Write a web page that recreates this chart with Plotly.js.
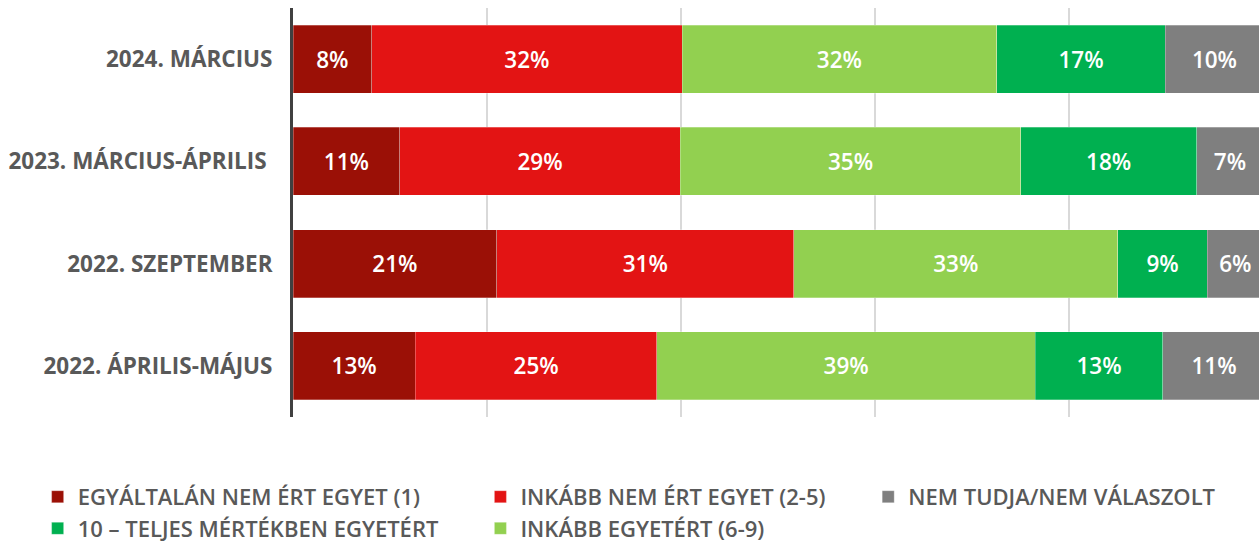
<!DOCTYPE html>
<html>
<head>
<meta charset="utf-8">
<script src="https://cdn.plot.ly/plotly-3.0.1.min.js"></script>
<style>
  html, body { margin: 0; padding: 0; background: #ffffff; }
  #chart { width: 1259px; height: 542px; }
</style>
</head>
<body>
<div id="chart"></div>
<script>
// ---- data ----
const categories = ["2024. MÁRCIUS", "2023. MÁRCIUS-ÁPRILIS\u00a0", "2022. SZEPTEMBER", "2022. ÁPRILIS-MÁJUS"];
const egyaltalanNem = [8.1, 11.0, 21.0, 12.6];   // EGYÁLTALÁN NEM ÉRT EGYET (1)
const inkabbNem     = [32.0, 28.9, 30.6, 24.9];  // INKÁBB NEM ÉRT EGYET (2-5)
const inkabbIgen    = [32.4, 35.1, 33.4, 39.0];  // INKÁBB EGYETÉRT (6-9)
const teljesen      = [17.4, 18.1, 9.2, 13.1];   // 10 – TELJES MÉRTÉKBEN EGYETÉRT
const nemTudja      = [10.1, 6.9, 5.8, 10.6];    // NEM TUDJA/NEM VÁLASZOLT

const seriesNames = [
  "EGYÁLTALÁN NEM ÉRT EGYET (1)",
  "INKÁBB NEM ÉRT EGYET (2-5)",
  "INKÁBB EGYETÉRT (6-9)",
  "10 – TELJES MÉRTÉKBEN EGYETÉRT",
  "NEM TUDJA/NEM VÁLASZOLT"
];
const seriesValues = [egyaltalanNem, inkabbNem, inkabbIgen, teljesen, nemTudja];
const seriesColors = ["#9B1006", "#E31414", "#92D050", "#00B050", "#7F7F7F"];
const seriesLegend = ["legend", "legend2", "legend2", "legend", "legend3"];
const seriesRank   = [1, 1, 2, 2, 1];

const FONT = "'Open Sans', Roboto, sans-serif";

const traces = seriesValues.map((vals, i) => ({
  type: "bar",
  orientation: "h",
  name: seriesNames[i],
  x: vals,
  y: categories,
  marker: { color: seriesColors[i], line: { color: "rgba(255,255,255,0.45)", width: 0.6 } },
  texttemplate: "%{x:.0f}%",
  textposition: "inside",
  insidetextanchor: "middle",
  textangle: 0,
  constraintext: "none",
  textfont: { family: FONT, size: 22.5, color: "#ffffff", weight: 600 },
  legend: seriesLegend[i],
  legendrank: seriesRank[i],
  hoverinfo: "name+x"
}));

// plot area in px
const L = 292.5, R = 1259, T = 7.5, B = 417;
const W = R - L, H = B - T;
const px2x = p => (p - L) / W;
const px2y = p => (B - p) / H;

const legendFont = { family: FONT, size: 22, color: "#595959", weight: 600 };
const legendBase = {
  orientation: "v",
  xanchor: "left",
  yanchor: "top",
  y: px2y(476),
  bgcolor: "rgba(0,0,0,0)",
  font: legendFont,
  traceorder: "normal",
  itemclick: false,
  itemdoubleclick: false
};

const layout = {
  width: 1259,
  height: 542,
  margin: { l: L, r: 1259 - R, t: T, b: 542 - B, pad: 0, autoexpand: false },
  paper_bgcolor: "#ffffff",
  plot_bgcolor: "#ffffff",
  barmode: "stack",
  bargap: 0.336,
  showlegend: true,
  xaxis: {
    range: [0, 99.54],
    dtick: 20,
    tick0: 0,
    showgrid: true,
    gridcolor: "#D9D9D9",
    gridwidth: 2,
    zeroline: false,
    showline: false,
    showticklabels: false,
    ticks: "",
    fixedrange: true
  },
  yaxis: {
    type: "category",
    categoryorder: "array",
    categoryarray: categories,
    autorange: "reversed",
    showline: true,
    linecolor: "#404040",
    linewidth: 3,
    showgrid: false,
    zeroline: false,
    ticks: "",
    ticklabelstandoff: 13,
    tickfont: { family: FONT, size: 22.5, color: "#595959", weight: 700 },
    fixedrange: true
  },
  legend:  Object.assign({}, legendBase, { x: px2x(37) }),
  legend2: Object.assign({}, legendBase, { x: px2x(480) }),
  legend3: Object.assign({}, legendBase, { x: px2x(868) }),
  font: { family: FONT, color: "#595959" }
};

Plotly.newPlot("chart", traces, layout, { displayModeBar: false, staticPlot: true });
</script>
</body>
</html>
